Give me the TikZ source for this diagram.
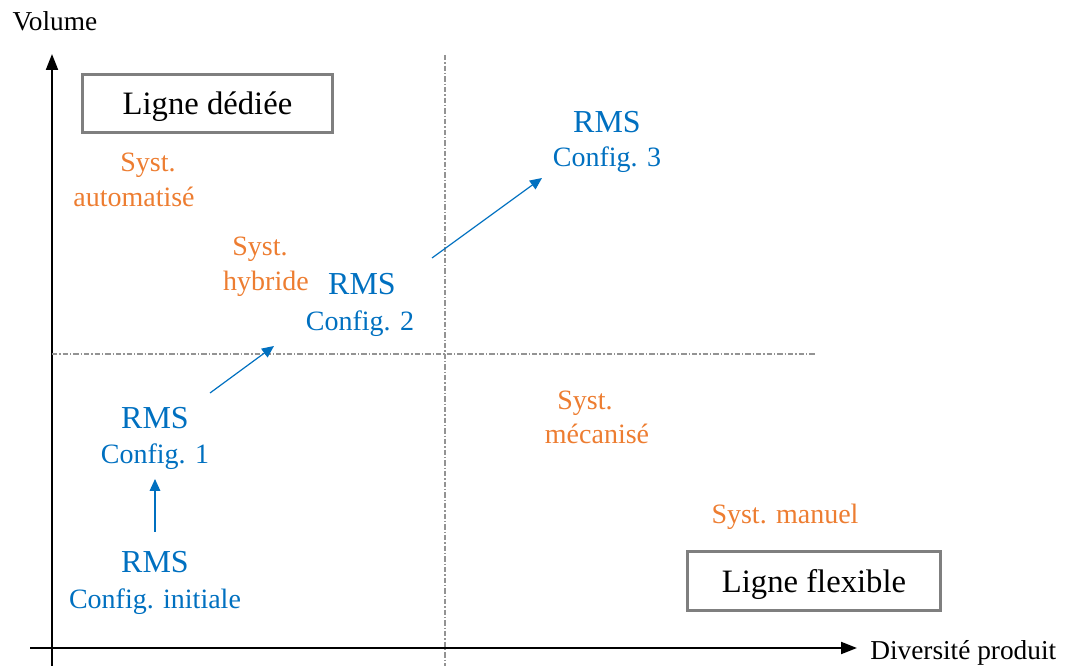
\documentclass[tikz,border=0pt]{standalone}
\usepackage{fontspec}
\setmainfont{Liberation Serif}
\usetikzlibrary{arrows.meta}
\definecolor{rmsblue}{HTML}{0070C0}
\definecolor{sysorange}{HTML}{ED7D31}
\definecolor{boxgray}{HTML}{7F7F7F}
\begin{document}
\begin{tikzpicture}[x=0.75pt,y=-0.75pt,
  big/.style={font=\fontsize{24}{28}\selectfont, text=rmsblue, anchor=base, inner sep=0pt},
  cfg/.style={font=\fontsize{21}{25}\selectfont, text=rmsblue, anchor=base, inner sep=0pt},
  sys/.style={font=\fontsize{21}{25}\selectfont, text=sysorange, anchor=base, inner sep=0pt},
  axlabel/.style={font=\fontsize{20.5}{24}\selectfont, anchor=base, inner sep=0pt},
  linebox/.style={draw=boxgray, line width=2.2pt, minimum width=188pt, minimum height=44pt, text depth=0pt, font=\fontsize{24.5}{28}\selectfont, inner sep=0pt},
  guide/.style={draw=gray!85, line width=0.8pt, dash pattern=on 4pt off 1.5pt on 1pt off 1.5pt},
  flow/.style={draw=rmsblue, line width=0.9pt, -{Triangle[length=9pt,width=8pt]}},
  axis/.style={draw=black, line width=1.5pt, -{Triangle[length=12pt,width=9pt]}}
]
\useasboundingbox (0,0) rectangle (1065,666);
% axes
\coordinate (yb) at (52,666);
\coordinate (yt) at (52,54);
\coordinate (xl) at (30,648);
\coordinate (xr) at (857,648);
\draw[axis] (yb) -- (yt);
\draw[axis] (xl) -- (xr);
\node[axlabel] (vol) at (55,31) {Volume};
\node[axlabel, anchor=base west] (div) at (870,660) {Diversité produit};
% guides
\coordinate (gvt) at (445,55);
\coordinate (gvb) at (445,666);
\coordinate (ghl) at (52,354);
\coordinate (ghr) at (815,354);
\draw[guide] (gvt) -- (gvb);
\draw[guide] (ghl) -- (ghr);
% boxes
\node[linebox] (ded) at (207.5,103.5) {Ligne dédiée};
\node[linebox, minimum width=190pt] (flex) at (814,581) {Ligne flexible};
% orange labels
\node[sys] (sa1) at (148,172) {Syst.};
\node[sys] (sa2) at (134,207) {automatisé};
\node[sys] (sh1) at (260,256) {Syst.};
\node[sys] (sh2) at (266,291) {hybride};
\node[sys] (sm1) at (585,410) {Syst.};
\node[sys] (sm2) at (597,444) {mécanisé};
\node[sys] (sman) at (785,524) {Syst. manuel};
% blue labels
\node[big] (r3) at (607,133) {RMS};
\node[cfg] (c3) at (607,167) {Config. 3};
\node[big] (r2) at (362,295) {RMS};
\node[cfg] (c2) at (360,331) {Config. 2};
\node[big] (r1) at (155,429) {RMS};
\node[cfg] (c1) at (155,464) {Config. 1};
\node[big] (r0) at (155,573) {RMS};
\node[cfg] (c0) at (155,609) {Config. initiale};
% arrows
\coordinate (a0s) at (155,532);
\coordinate (a0e) at (155,479);
\coordinate (a1s) at (210,393);
\coordinate (a1e) at (274,346);
\coordinate (a2s) at (432,258);
\coordinate (a2e) at (542,178);
\draw[flow] (a0s) -- (a0e);
\draw[flow] (a1s) -- (a1e);
\draw[flow] (a2s) -- (a2e);
\end{tikzpicture}
\end{document}
